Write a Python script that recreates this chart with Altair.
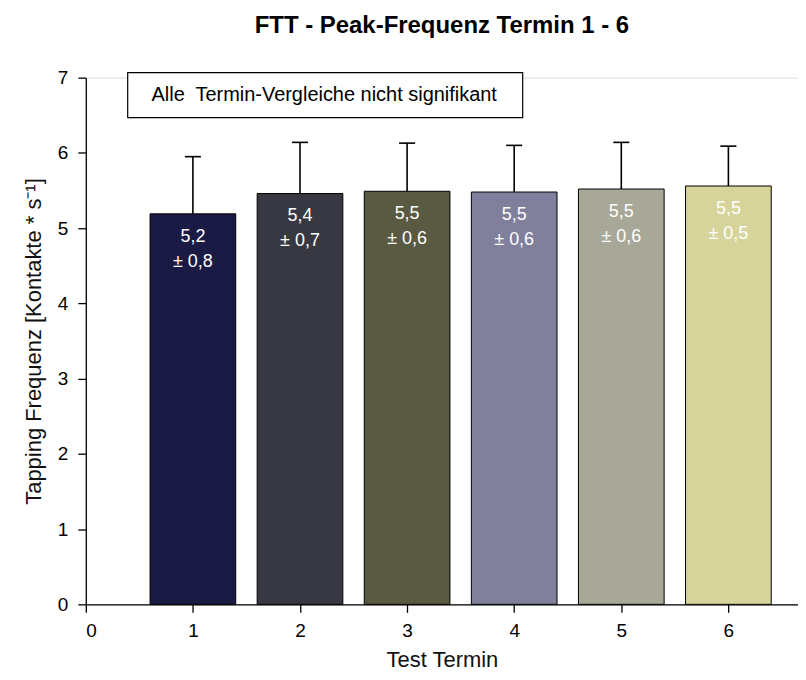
import altair as alt
import pandas as pd

termin = [1, 2, 3, 4, 5, 6]
mean = [5.19, 5.46, 5.49, 5.48, 5.52, 5.56]
sd = [0.76, 0.68, 0.64, 0.62, 0.62, 0.53]
label_mean = ["5,2", "5,4", "5,5", "5,5", "5,5", "5,5"]
label_sd = ["± 0,8", "± 0,7", "± 0,6", "± 0,6", "± 0,6", "± 0,5"]
colors = ["#1a1a45", "#383842", "#5a5a42", "#80809c", "#a8a898", "#d6d49a"]
x_ticks = [0, 1, 2, 3, 4, 5, 6]
y_ticks = [0, 1, 2, 3, 4, 5, 6, 7]
note = "Alle\u00a0 Termin-Vergleiche nicht signifikant"

df = pd.DataFrame({
    "termin": termin, "mean": mean, "sd": sd,
    "lm": label_mean, "ls": label_sd, "color": colors,
})

FONT = "Liberation Sans"

xscale = alt.Scale(domain=[0, 6.65], nice=False, zero=False)
yscale = alt.Scale(domain=[0, 7], nice=False)

base = alt.Chart(df).transform_calculate(
    x1="datum.termin - 0.4",
    x2="datum.termin + 0.4",
    c1="datum.termin - 0.075",
    c2="datum.termin + 0.075",
    top="datum.mean + datum.sd",
)

xaxis = alt.Axis(values=x_ticks, title="Test Termin", format="d", labelPadding=9, titlePadding=9)
yaxis = alt.Axis(values=y_ticks, title="Tapping Frequenz [Kontakte * s⁻¹]", format="d",
                 labelPadding=10, titlePadding=12)

errs = base.mark_rule(color="black", strokeWidth=1.6).encode(
    x=alt.X("termin:Q", scale=xscale, axis=xaxis),
    y=alt.Y("mean:Q", scale=yscale, axis=yaxis),
    y2="top:Q",
)
caps = base.mark_rule(color="black", strokeWidth=1.6).encode(
    x=alt.X("c1:Q", scale=xscale), x2="c2:Q",
    y=alt.Y("top:Q", scale=yscale),
)
bars = base.mark_rect(stroke="black", strokeWidth=1).encode(
    x=alt.X("x1:Q", scale=xscale), x2="x2:Q",
    y=alt.Y("mean:Q", scale=yscale), y2=alt.datum(0),
    fill=alt.Fill("color:N", scale=None),
)
t1 = base.mark_text(color="white", fontSize=18, font=FONT, baseline="middle", dy=23).encode(
    x=alt.X("termin:Q", scale=xscale), y=alt.Y("mean:Q", scale=yscale), text="lm:N")
t2 = base.mark_text(color="white", fontSize=18, font=FONT, baseline="middle", dy=48).encode(
    x=alt.X("termin:Q", scale=xscale), y=alt.Y("mean:Q", scale=yscale), text="ls:N")

box = alt.Chart(pd.DataFrame({"n": [note]})).mark_rect(
    fill="white", stroke="black", strokeWidth=1.2).encode(
    x=alt.value(42), x2=alt.value(438), y=alt.value(-5), y2=alt.value(40))
boxtext = alt.Chart(pd.DataFrame({"n": [note]})).mark_text(
    fontSize=20, font=FONT, color="black", align="center", baseline="middle").encode(
    x=alt.value(239), y=alt.value(17), text="n:N")

chart = alt.layer(errs, caps, bars, t1, t2, box, boxtext).properties(
    width=714, height=528,
    autosize=alt.AutoSizeParams(type="none"),
    padding={"left": 78, "top": 69, "right": 0, "bottom": 67},
    title=alt.TitleParams("FTT - Peak-Frequenz Termin 1 - 6", fontSize=24, font=FONT,
                          fontWeight="bold", color="black", offset=31, anchor="middle"),
).configure_view(stroke=None).configure(background="white").configure_axis(
    grid=False, tickSize=8, labelFontSize=19, titleFontSize=22,
    domainColor="black", tickColor="black", labelColor="black",
    titleColor="#111", titleFontWeight="normal", labelFont=FONT, titleFont=FONT,
    domainWidth=1.3, tickWidth=1.3,
)

chart.save("out.html", embed_options={"renderer": "svg", "actions": False})
